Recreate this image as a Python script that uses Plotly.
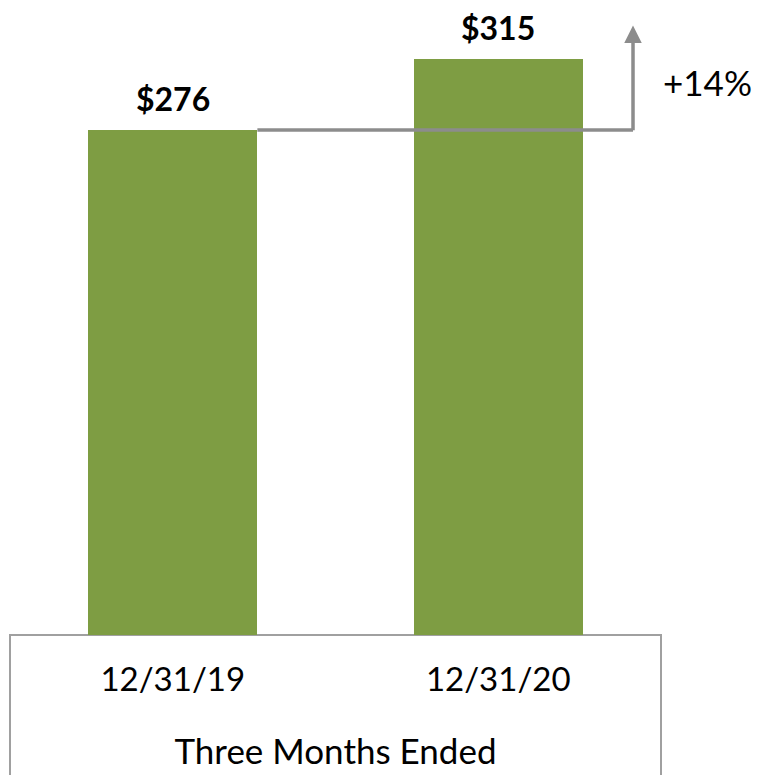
import plotly.graph_objects as go

categories = ["12/31/19", "12/31/20"]
values = [276, 315]
value_labels = ["$276", "$315"]
growth_label = "+14%"
axis_title = "Three Months Ended"

FONT = "Lato"
BAR_COLOR = "#7e9d43"
GREY = "#8c8c8c"

x_idx = list(range(len(categories)))

fig = go.Figure()
fig.add_trace(go.Bar(
    x=x_idx, y=values, width=0.52,
    marker=dict(color=BAR_COLOR, line=dict(width=0)),
    showlegend=False, hoverinfo="skip",
))

for xi, v, lab in zip(x_idx, values, value_labels):
    fig.add_annotation(x=xi, y=v, xref="x", yref="y", text=lab, showarrow=False,
                       yanchor="bottom", yshift=10,
                       font=dict(family=FONT, size=32, color="black", weight="bold"))

# growth connector: from top of first bar to arrow above second bar
x_turn = 1.414
fig.add_shape(type="line", xref="x", yref="y",
              x0=x_idx[0] + 0.26, x1=x_turn, y0=values[0], y1=values[0],
              line=dict(color=GREY, width=3.5))
fig.add_annotation(x=x_turn, y=333, ax=x_turn, ay=values[0] - 1,
                   xref="x", yref="y", axref="x", ayref="y",
                   text="", showarrow=True, arrowhead=2, arrowsize=1,
                   arrowwidth=3.5, arrowcolor=GREY)
fig.add_annotation(x=1.0, y=(635 - 82) / 635, xref="paper", yref="paper",
                   xanchor="left", yanchor="middle", xshift=0,
                   text=growth_label, showarrow=False,
                   font=dict(family=FONT, size=35, color="black"))

# table box below the plot
fig.add_shape(type="rect", xref="paper", yref="paper",
              x0=0, x1=1, y0=-0.4, y1=0,
              line=dict(color="#a0a0a0", width=2), fillcolor="rgba(0,0,0,0)",
              layer="below")

fig.update_layout(
    width=758, height=775,
    margin=dict(l=10, r=97, t=0, b=140),
    paper_bgcolor="white", plot_bgcolor="white",
    xaxis=dict(range=[-0.5, 1.5], tickvals=x_idx, ticktext=categories,
               showline=False, showgrid=False, zeroline=False, ticks="",
               ticklabelstandoff=22,
               tickfont=dict(family=FONT, size=33, color="black"),
               title=dict(text=axis_title, standoff=42,
                          font=dict(family=FONT, size=35, color="black"))),
    yaxis=dict(range=[0, 635 / 1.83], visible=False, showgrid=False, zeroline=False),
    bargap=0,
)

fig.write_html("out.html")
